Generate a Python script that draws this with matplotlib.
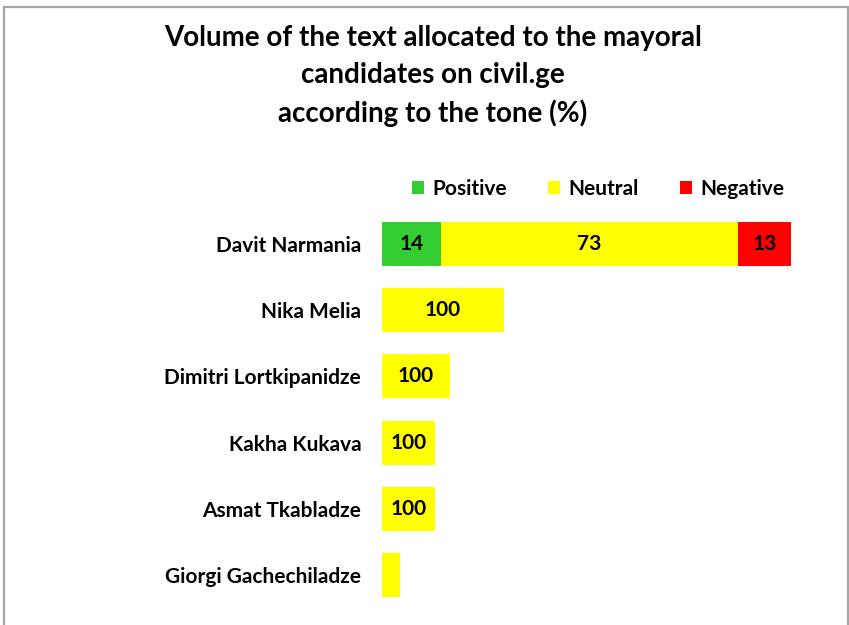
import matplotlib
matplotlib.use("Agg")
import matplotlib.pyplot as plt
from matplotlib.patches import Patch, Rectangle

candidates = ["Davit Narmania", "Nika Melia", "Dimitri Lortkipanidze",
              "Kakha Kukava", "Asmat Tkabladze", "Giorgi Gachechiladze"]
# Volume of text (relative units) by tone
positive = [59, 0, 0, 0, 0, 0]
neutral = [297, 122, 68, 53, 53, 18]
negative = [53, 0, 0, 0, 0, 0]
# Percent labels shown in the bars
positive_pct = ["14", "", "", "", "", ""]
neutral_pct = ["73", "100", "100", "100", "100", ""]
negative_pct = ["13", "", "", "", "", ""]

title = "Volume of the text allocated to the mayoral\ncandidates on civil.ge\naccording to the tone (%)"
colors = {"Positive": "#33cc33", "Neutral": "#ffff00", "Negative": "#ff0000"}

plt.rcParams['font.family'] = ['Lato', 'DejaVu Sans']
W, H = 849, 625
fig = plt.figure(figsize=(W / 100, H / 100), dpi=100)

# frame
fig.patches.append(Rectangle((4 / W, -0.01), (844 / W), 1 - 7 / H + 0.01,
                             transform=fig.transFigure, fill=False,
                             edgecolor="#a6a6a6", lw=1.6))

ax_left, ax_right = 382 / W, 840 / W
ax_top, ax_bot = 1 - 211 / H, 1 - 608 / H
ax = fig.add_axes([ax_left, ax_bot, ax_right - ax_left, ax_top - ax_bot])

y = list(range(len(candidates)))
bh = 0.665
left = [0] * len(candidates)
for vals, labels, name in [(positive, positive_pct, "Positive"),
                           (neutral, neutral_pct, "Neutral"),
                           (negative, negative_pct, "Negative")]:
    bars = ax.barh(y, vals, left=left, height=bh, color=colors[name], label=name)
    ax.bar_label(bars, labels=labels, label_type="center",
                 fontsize=15, fontweight="bold", color="black")
    left = [l + v for l, v in zip(left, vals)]

ax.set_xlim(0, 458)
ax.set_ylim(len(candidates) - 0.5, -0.5)
ax.set_yticks(y)
ax.set_yticklabels(candidates, fontsize=15, fontweight="bold")
ax.tick_params(axis="y", length=0, pad=15)
ax.set_xticks([])
for s in ax.spines.values():
    s.set_visible(False)

handles = [Patch(facecolor=colors[n], label=n) for n in ["Positive", "Neutral", "Negative"]]
fig.legend(handles=handles, ncol=3, loc="center left",
           bbox_to_anchor=(393 / W, 1 - 189 / H), frameon=False,
           prop={"weight": "bold", "size": 15},
           handlelength=0.6, handleheight=0.6, handletextpad=0.4,
           columnspacing=1.95)

fig.text(433 / W, 1 - 76 / H, title, ha="center", va="center",
         fontsize=20, fontweight="bold", linespacing=1.5)

fig.savefig("out.png", dpi=100)
